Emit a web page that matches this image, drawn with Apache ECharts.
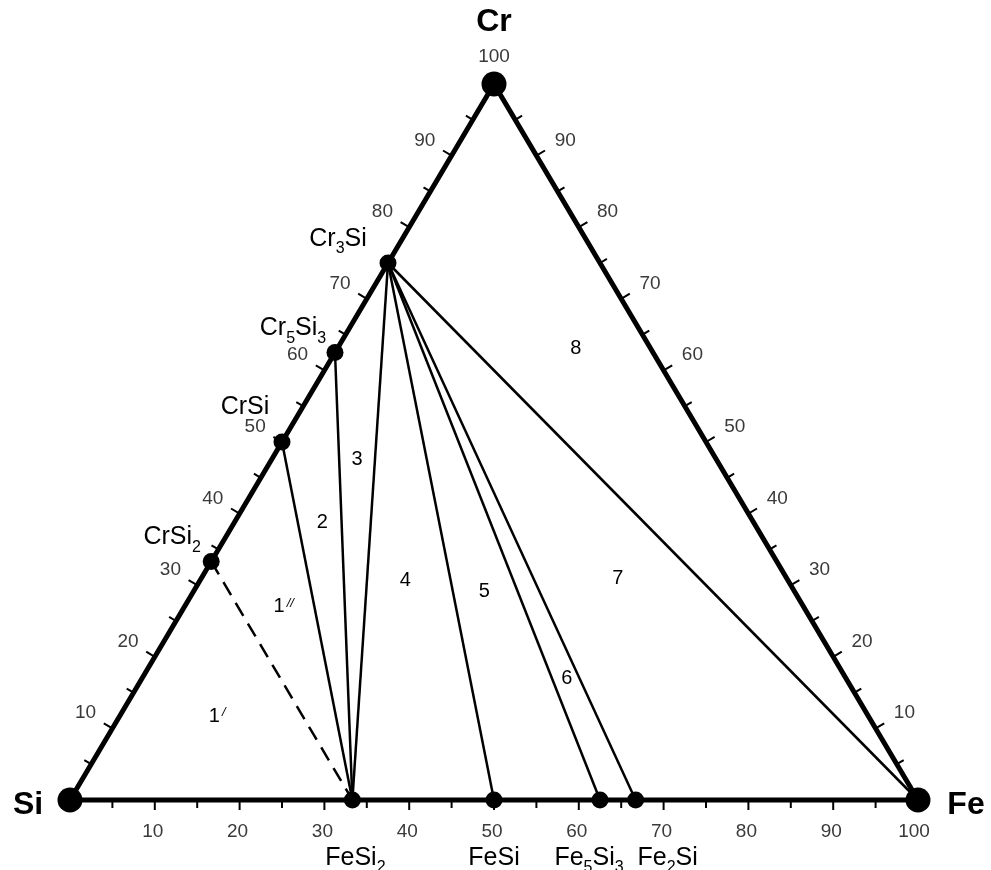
<!DOCTYPE html>
<html>
<head>
<meta charset="utf-8">
<title>Cr-Fe-Si</title>
<script src="https://cdn.jsdelivr.net/npm/echarts@6/dist/echarts.min.js"></script>
<style>
	html, body { margin: 0; padding: 0; background: #fff; }
	#chart { width: 991px; height: 870px; }
</style>
</head>
<body>
<div id="chart"></div>
<script>
// corners of the triangle, composition in at.% Fe and Cr (Si is the rest)
const vertexNames = ['Si', 'Fe', 'Cr'];
const vertexFe = [0, 100, 0];
const vertexCr = [0, 0, 100];

// compounds on the Si-Fe side (at.% Fe)
const feSiNames = ['FeSi2', 'FeSi', 'Fe5Si3', 'Fe2Si'];
const feSiFe = [33.3, 50, 62.5, 66.7];

// compounds on the Si-Cr side (at.% Cr)
const crSiNames = ['CrSi2', 'CrSi', 'Cr5Si3', 'Cr3Si'];
const crSiCr = [33.3, 50, 62.5, 75];

// tie lines
const tieFrom = ['CrSi2', 'CrSi', 'Cr5Si3', 'Cr3Si', 'Cr3Si', 'Cr3Si', 'Cr3Si', 'Cr3Si'];
const tieTo = ['FeSi2', 'FeSi2', 'FeSi2', 'FeSi2', 'FeSi', 'Fe5Si3', 'Fe2Si', 'Fe'];
const tieDashed = [true, false, false, false, false, false, false, false];

// phase field numbers and where they sit (at.% Fe, at.% Cr)
const fieldNames = ['1/', '1//', '2', '3', '4', '5', '6', '7', '8'];
const fieldFe = [11.5, 11.7, 10.4, 10.1, 24.2, 34.3, 50.1, 49.1, 28.1];
const fieldCr = [11.7, 27.0, 38.7, 47.5, 30.7, 29.1, 17.0, 31.0, 63.1];

// scale on every side: ticks each 5, numbers each 10
const tickValues = [5, 10, 15, 20, 25, 30, 35, 40, 45, 50, 55, 60, 65, 70, 75, 80, 85, 90, 95];
const labelValues = [10, 20, 30, 40, 50, 60, 70, 80, 90];
const cornerLabel = '100';

// ternary -> cartesian
function tern(fe, cr) {
	return [fe + cr / 2, cr];
}

const comp = {};
vertexNames.forEach((n, i) => comp[n] = [vertexFe[i], vertexCr[i]]);
feSiNames.forEach((n, i) => comp[n] = [feSiFe[i], 0]);
crSiNames.forEach((n, i) => comp[n] = [0, crSiCr[i]]);

function richName(n) {
	return n.replace(/(\d)/g, '{s|$1}');
}

// label placement next to each dot (pixels)
const compLabelOffset = {
	FeSi2: [3, 58], FeSi: [0, 58], Fe5Si3: [-11, 58], Fe2Si: [32, 58],
	CrSi2: [-39, -24], CrSi: [-37, -35], Cr5Si3: [-42, -24], Cr3Si: [-50, -24]
};
const vertexLabelOffset = { Si: [-42, 5], Fe: [48, 5], Cr: [0, -62] };

// sides: 0 bottom (Fe), 1 left (Cr), 2 right (Cr)
function sidePoint(side, v) {
	if (side === 0) return tern(v, 0);
	if (side === 1) return tern(0, v);
	return tern(100 - v, v);
}

const tickData = [];
[0, 1, 2].forEach(side => tickValues.forEach(v => tickData.push([side, v])));

const compRich = {
	s: { fontSize: 16, verticalAlign: 'bottom', fontFamily: 'Liberation Sans', color: '#000' }
};

const series = [];

// outline of the triangle
series.push({
	type: 'line',
	data: [tern(0, 0), tern(100, 0), tern(0, 100), tern(0, 0)],
	symbol: 'none',
	clip: false,
	z: 3,
	lineStyle: { color: '#000', width: 5, join: 'round', opacity: 1 },
	silent: true
});

// tie lines
tieFrom.forEach((f, i) => {
	series.push({
		type: 'line',
		data: [tern(...comp[f]), tern(...comp[tieTo[i]])],
		symbol: 'none',
		clip: false,
		z: 2,
		lineStyle: { color: '#000', width: 2.5, opacity: 1, type: tieDashed[i] ? [15, 9] : 'solid' },
		silent: true
	});
});

// ticks and their numbers
series.push({
	type: 'custom',
	data: tickData,
	clip: false,
	z: 3,
	silent: true,
	encode: { x: -1, y: -1 },
	renderItem: function (params, api) {
		const side = api.value(0), v = api.value(1);
		const p = api.coord(sidePoint(side, v));
		const a = api.coord(sidePoint(side, 0));
		const b = api.coord(sidePoint(side, 100));
		let dx = b[0] - a[0], dy = b[1] - a[1];
		const len = Math.sqrt(dx * dx + dy * dy);
		dx /= len; dy /= len;
		let n;
		if (side === 0) n = [0, 1];
		else if (side === 1) n = [dy, -dx];
		else n = [-dy, dx];
		const major = v % 10 === 0;
		const tl = major ? 10 : 8;
		const children = [{
			type: 'line',
			shape: { x1: p[0], y1: p[1], x2: p[0] + n[0] * tl, y2: p[1] + n[1] * tl },
			style: { stroke: '#000', lineWidth: 2 }
		}];
		if (labelValues.indexOf(v) >= 0) {
			let tx, ty;
			if (side === 0) { tx = p[0] - 2; ty = p[1] + 32; }
			else if (side === 1) { tx = p[0] + n[0] * 30 - 1; ty = p[1] + n[1] * 30; }
			else { tx = p[0] + n[0] * 30 + 3; ty = p[1] + n[1] * 30; }
			children.push({
				type: 'text',
				x: tx, y: ty,
				style: {
					text: String(v), align: 'center', verticalAlign: 'middle',
					fontSize: 19, fontFamily: 'Liberation Sans', fill: '#3a3a3a'
				}
			});
		}
		return { type: 'group', children: children };
	}
});

// compound dots with names
series.push({
	type: 'scatter',
	data: feSiNames.concat(crSiNames).map(n => ({
		name: n,
		value: tern(...comp[n]),
		label: { offset: compLabelOffset[n] }
	})),
	symbol: 'circle',
	symbolSize: 17,
	itemStyle: { color: '#000', opacity: 1 },
	clip: false,
	z: 5,
	silent: true,
	label: {
		show: true,
		position: 'inside',
		formatter: p => richName(p.name),
		fontSize: 25,
		lineHeight: 36,
		fontFamily: 'Liberation Sans',
		color: '#000',
		rich: compRich
	}
});

// corners
series.push({
	type: 'scatter',
	data: vertexNames.map(n => ({
		name: n,
		value: tern(...comp[n]),
		label: { offset: vertexLabelOffset[n] }
	})),
	symbol: 'circle',
	symbolSize: 25,
	itemStyle: { color: '#000', opacity: 1 },
	clip: false,
	z: 6,
	silent: true,
	label: {
		show: true,
		position: 'inside',
		formatter: '{b}',
		fontSize: 32,
		fontWeight: 'bold',
		fontFamily: 'Liberation Sans',
		color: '#000'
	}
});

// the "100" at Cr and at Fe
series.push({
	type: 'scatter',
	data: [
		{ value: tern(...comp.Cr), label: { offset: [0, -27] } },
		{ value: tern(...comp.Fe), label: { offset: [-4, 32] } }
	],
	symbolSize: 0,
	itemStyle: { opacity: 1 },
	clip: false,
	z: 6,
	silent: true,
	label: {
		show: true,
		position: 'inside',
		formatter: cornerLabel,
		fontSize: 19,
		fontFamily: 'Liberation Sans',
		color: '#3a3a3a'
	}
});

// phase field numbers
series.push({
	type: 'scatter',
	data: fieldNames.map((n, i) => ({ name: n, value: tern(fieldFe[i], fieldCr[i]) })),
	symbolSize: 0,
	itemStyle: { opacity: 1 },
	clip: false,
	z: 6,
	silent: true,
	label: {
		show: true,
		position: 'inside',
		formatter: p => p.name.length > 1 ? p.name[0] + '{p|' + p.name.slice(1) + '}' : p.name,
		fontSize: 20,
		fontFamily: 'Liberation Sans',
		color: '#000',
		rich: {
			p: { fontSize: 13, fontStyle: 'italic', verticalAlign: 'top', padding: [0, 0, 0, 2], fontFamily: 'Liberation Sans', color: '#000' }
		}
	}
});

const option = {
	backgroundColor: '#fff',
	animation: false,
	grid: { left: 70, right: 73, top: 84, bottom: 70 },
	xAxis: { type: 'value', min: 0, max: 100, show: false },
	yAxis: { type: 'value', min: 0, max: 100, show: false },
	series: series
};

echarts.init(document.getElementById('chart')).setOption(option);
</script>
</body>
</html>
